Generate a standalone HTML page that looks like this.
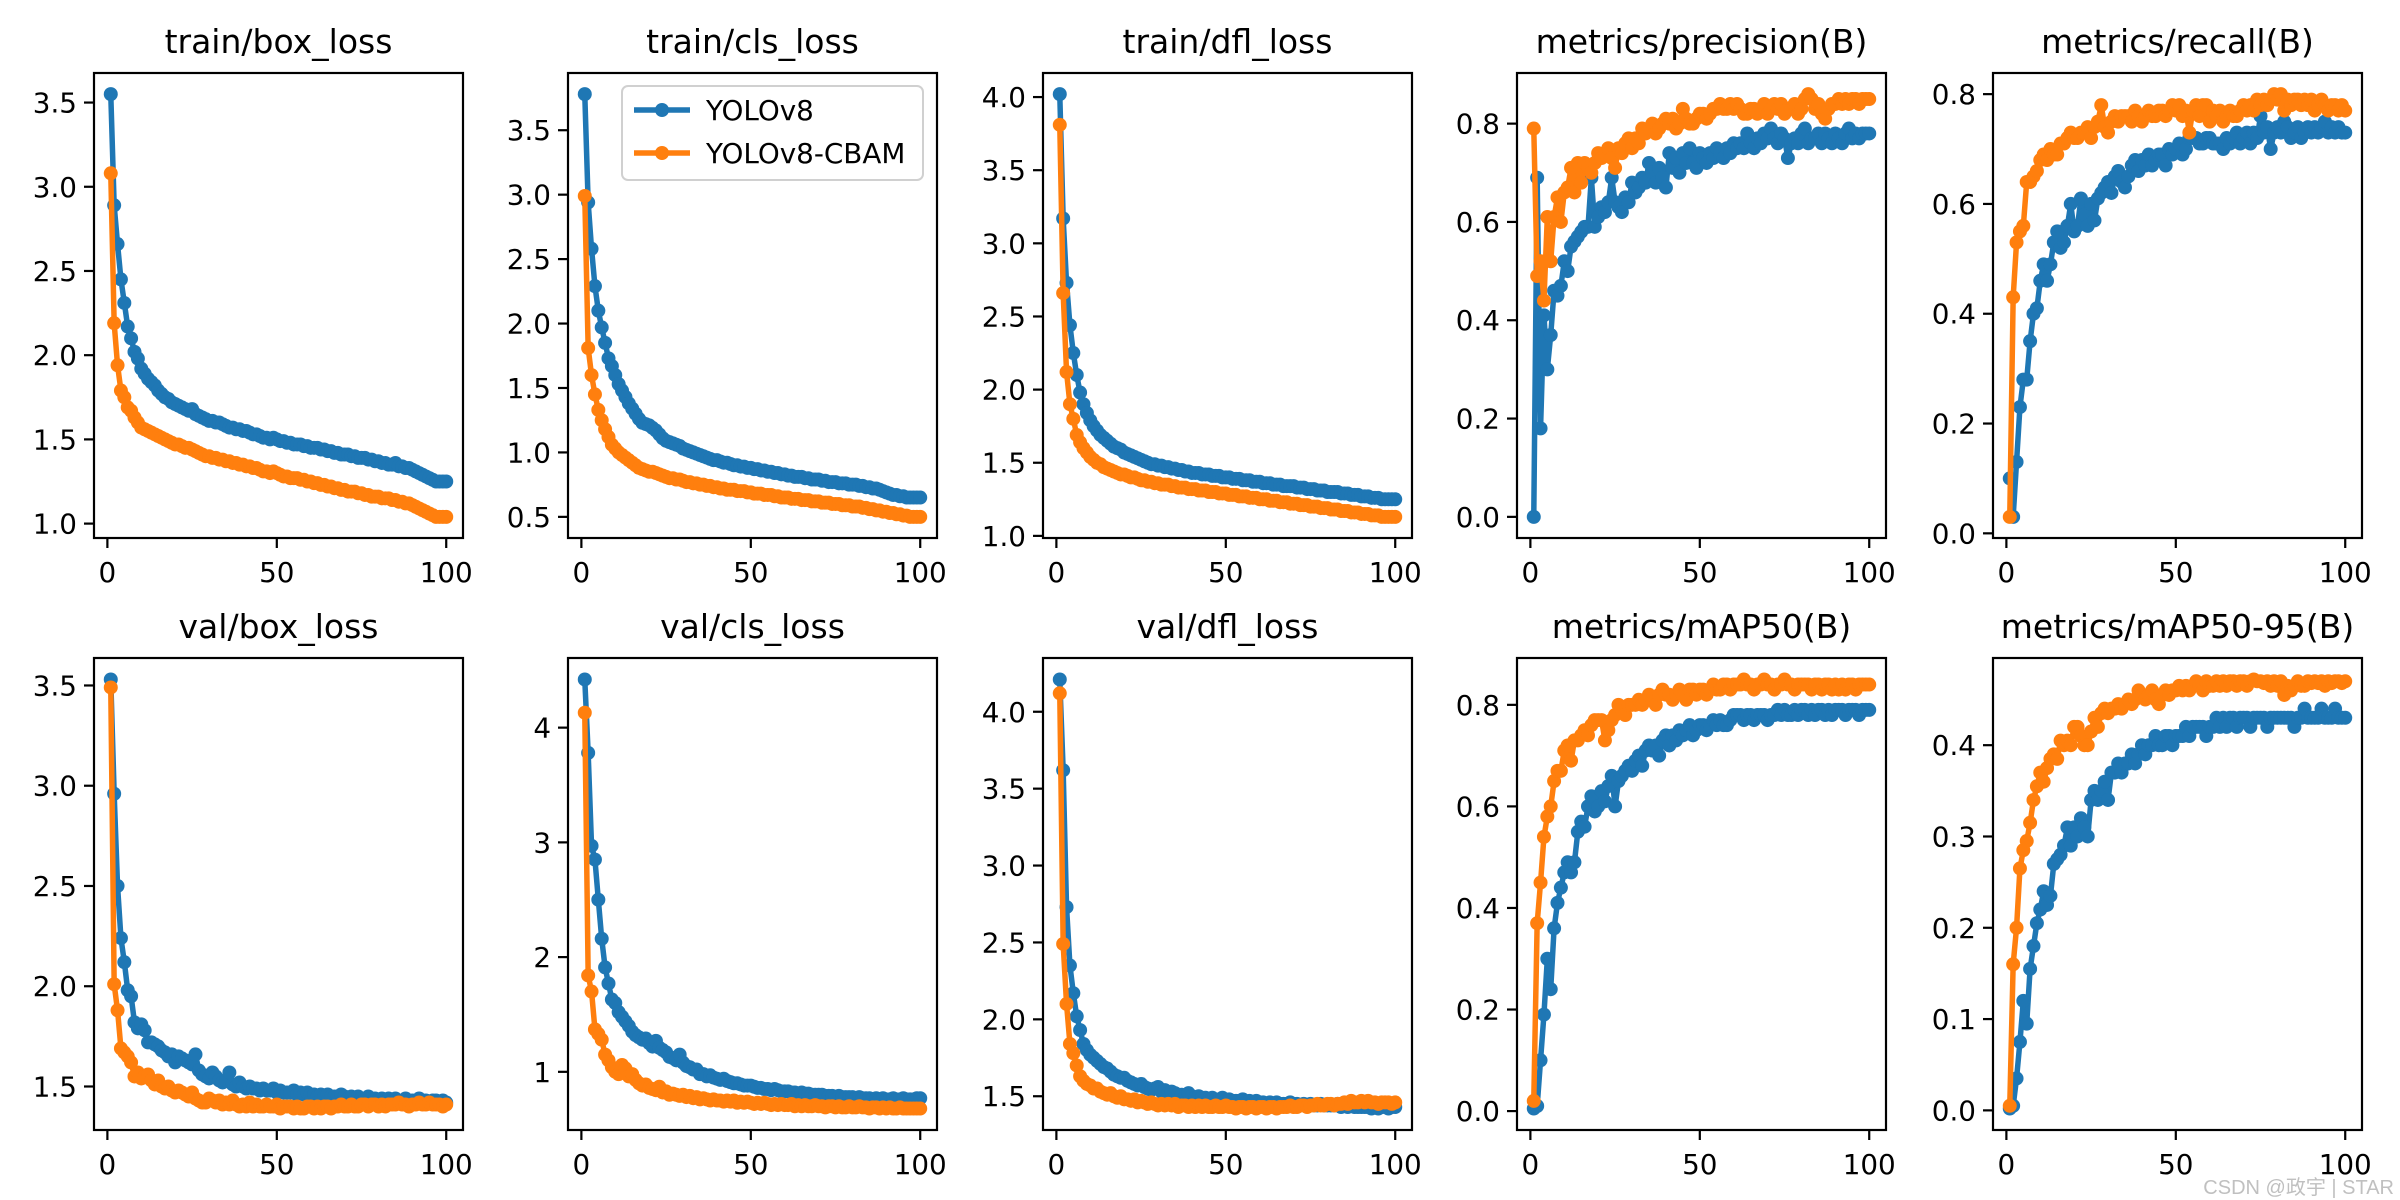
<!DOCTYPE html>
<html><head><meta charset="utf-8"><style>
html,body{margin:0;padding:0;background:#fff}
svg{display:block;font-family:"DejaVu Sans","Liberation Sans",sans-serif}
</style></head><body>
<svg id="fig" width="2400" height="1200" viewBox="0 0 2400 1200" xmlns="http://www.w3.org/2000/svg">
<rect width="2400" height="1200" fill="#fff"/>
<text x="2394" y="1194" text-anchor="end" font-size="20" fill="#c0c0c0" font-family="'Liberation Sans','Noto Sans CJK SC',sans-serif">CSDN @政宇 | STAR</text>
</svg>
<script>
const titles = ["train/box_loss","train/cls_loss","train/dfl_loss","metrics/precision(B)","metrics/recall(B)","val/box_loss","val/cls_loss","val/dfl_loss","metrics/mAP50(B)","metrics/mAP50-95(B)"];
const seriesNames = ["YOLOv8","YOLOv8-CBAM"];
const xTicks = [0,50,100];
const yTicks0 = [1.0,1.5,2.0,2.5,3.0,3.5];
const yTicks1 = [0.5,1.0,1.5,2.0,2.5,3.0,3.5];
const yTicks2 = [1.0,1.5,2.0,2.5,3.0,3.5,4.0];
const yTicks3 = [0.0,0.2,0.4,0.6,0.8];
const yTicks4 = [0.0,0.2,0.4,0.6,0.8];
const yTicks5 = [1.5,2.0,2.5,3.0,3.5];
const yTicks6 = [1,2,3,4];
const yTicks7 = [1.5,2.0,2.5,3.0,3.5,4.0];
const yTicks8 = [0.0,0.2,0.4,0.6,0.8];
const yTicks9 = [0.0,0.1,0.2,0.3,0.4];
const tickDecimals = [1,1,1,1,1,1,0,1,1,1];

const trainBoxV8 = [3.55,2.89,2.66,2.45,2.31,2.17,2.10,2.02,1.98,1.92,1.89,1.86,1.84,1.82,1.79,1.77,1.75,1.74,1.72,1.71,1.70,1.69,1.68,1.67,1.68,1.65,1.64,1.63,1.62,1.61,1.61,1.60,1.60,1.59,1.58,1.57,1.57,1.56,1.56,1.55,1.55,1.54,1.53,1.53,1.52,1.51,1.51,1.50,1.51,1.50,1.49,1.49,1.48,1.48,1.47,1.47,1.47,1.46,1.46,1.45,1.45,1.45,1.44,1.44,1.43,1.43,1.42,1.42,1.41,1.41,1.41,1.40,1.40,1.39,1.39,1.39,1.38,1.38,1.37,1.37,1.36,1.36,1.35,1.35,1.36,1.34,1.34,1.33,1.33,1.32,1.31,1.30,1.29,1.28,1.27,1.26,1.25,1.25,1.25,1.25];
const trainBoxCBAM = [3.08,2.19,1.94,1.79,1.75,1.69,1.67,1.63,1.60,1.57,1.56,1.55,1.54,1.53,1.52,1.51,1.50,1.49,1.48,1.47,1.47,1.46,1.45,1.45,1.44,1.43,1.42,1.41,1.40,1.40,1.39,1.39,1.38,1.38,1.37,1.37,1.36,1.36,1.35,1.35,1.34,1.34,1.33,1.33,1.32,1.31,1.31,1.30,1.31,1.30,1.29,1.28,1.28,1.27,1.27,1.27,1.26,1.26,1.25,1.25,1.24,1.24,1.23,1.23,1.22,1.22,1.21,1.21,1.20,1.20,1.19,1.19,1.19,1.18,1.18,1.17,1.17,1.16,1.16,1.16,1.15,1.15,1.15,1.14,1.14,1.13,1.13,1.12,1.12,1.11,1.10,1.09,1.08,1.07,1.06,1.05,1.04,1.04,1.04,1.04];
const trainClsV8 = [3.78,2.94,2.58,2.29,2.10,1.97,1.85,1.73,1.67,1.60,1.53,1.48,1.43,1.38,1.34,1.30,1.26,1.23,1.22,1.21,1.19,1.17,1.14,1.11,1.09,1.08,1.07,1.06,1.05,1.03,1.02,1.01,1.00,0.99,0.98,0.97,0.96,0.95,0.94,0.94,0.93,0.92,0.92,0.91,0.90,0.90,0.89,0.89,0.88,0.88,0.87,0.87,0.86,0.86,0.85,0.85,0.84,0.84,0.83,0.83,0.82,0.82,0.81,0.81,0.81,0.80,0.80,0.79,0.79,0.79,0.78,0.78,0.77,0.77,0.77,0.76,0.76,0.76,0.75,0.75,0.75,0.74,0.74,0.73,0.73,0.72,0.72,0.71,0.70,0.69,0.68,0.67,0.67,0.66,0.66,0.65,0.65,0.65,0.65,0.65];
const trainClsCBAM = [2.99,1.81,1.60,1.45,1.33,1.25,1.18,1.12,1.06,1.03,1.00,0.98,0.96,0.94,0.92,0.90,0.88,0.87,0.86,0.85,0.85,0.84,0.83,0.82,0.81,0.80,0.80,0.79,0.79,0.78,0.77,0.77,0.76,0.76,0.75,0.75,0.74,0.74,0.73,0.73,0.72,0.72,0.71,0.71,0.71,0.70,0.70,0.70,0.69,0.69,0.68,0.68,0.68,0.67,0.67,0.67,0.66,0.66,0.65,0.65,0.65,0.64,0.64,0.64,0.63,0.63,0.63,0.62,0.62,0.62,0.61,0.61,0.61,0.60,0.60,0.60,0.59,0.59,0.59,0.58,0.58,0.58,0.57,0.57,0.56,0.56,0.55,0.55,0.54,0.54,0.53,0.53,0.52,0.52,0.51,0.51,0.50,0.50,0.50,0.50];
const trainDflV8 = [4.02,3.17,2.73,2.44,2.25,2.10,1.98,1.90,1.84,1.79,1.75,1.72,1.69,1.67,1.65,1.63,1.61,1.60,1.59,1.57,1.56,1.55,1.54,1.53,1.52,1.51,1.50,1.49,1.49,1.48,1.48,1.47,1.47,1.46,1.46,1.45,1.45,1.44,1.44,1.43,1.43,1.43,1.42,1.42,1.42,1.41,1.41,1.41,1.40,1.40,1.40,1.39,1.39,1.39,1.38,1.38,1.38,1.37,1.37,1.37,1.36,1.36,1.36,1.35,1.35,1.35,1.34,1.34,1.34,1.34,1.33,1.33,1.33,1.32,1.32,1.32,1.31,1.31,1.31,1.30,1.30,1.30,1.30,1.29,1.29,1.29,1.28,1.28,1.28,1.27,1.27,1.27,1.26,1.26,1.26,1.25,1.25,1.25,1.25,1.25];
const trainDflCBAM = [3.81,2.66,2.12,1.90,1.80,1.69,1.64,1.60,1.57,1.54,1.52,1.50,1.49,1.47,1.46,1.45,1.44,1.43,1.42,1.42,1.41,1.40,1.40,1.39,1.38,1.38,1.37,1.37,1.36,1.36,1.35,1.35,1.35,1.34,1.34,1.33,1.33,1.33,1.32,1.32,1.32,1.31,1.31,1.31,1.30,1.30,1.30,1.29,1.29,1.29,1.28,1.28,1.28,1.27,1.27,1.27,1.26,1.26,1.26,1.25,1.25,1.25,1.24,1.24,1.24,1.23,1.23,1.23,1.22,1.22,1.22,1.21,1.21,1.21,1.20,1.20,1.20,1.19,1.19,1.19,1.18,1.18,1.18,1.17,1.17,1.17,1.16,1.16,1.16,1.15,1.15,1.15,1.14,1.14,1.14,1.13,1.13,1.13,1.13,1.13];
const precisionV8 = [0.00,0.69,0.18,0.41,0.30,0.37,0.46,0.45,0.47,0.52,0.50,0.55,0.56,0.57,0.58,0.59,0.59,0.69,0.59,0.61,0.63,0.62,0.64,0.69,0.64,0.63,0.62,0.65,0.64,0.68,0.66,0.67,0.69,0.68,0.72,0.70,0.68,0.71,0.69,0.67,0.74,0.71,0.73,0.70,0.74,0.72,0.75,0.72,0.71,0.74,0.73,0.72,0.74,0.73,0.75,0.74,0.73,0.75,0.74,0.76,0.75,0.76,0.75,0.78,0.76,0.75,0.77,0.76,0.78,0.77,0.79,0.77,0.76,0.78,0.77,0.73,0.76,0.77,0.76,0.78,0.79,0.76,0.77,0.77,0.78,0.76,0.78,0.77,0.76,0.78,0.77,0.76,0.78,0.79,0.77,0.78,0.77,0.78,0.78,0.78];
const precisionCBAM = [0.79,0.49,0.52,0.44,0.61,0.52,0.61,0.65,0.60,0.66,0.67,0.71,0.66,0.72,0.68,0.72,0.71,0.70,0.72,0.74,0.73,0.74,0.75,0.73,0.71,0.75,0.74,0.76,0.77,0.75,0.77,0.76,0.79,0.78,0.79,0.80,0.78,0.79,0.80,0.81,0.80,0.81,0.79,0.80,0.83,0.81,0.80,0.80,0.81,0.82,0.82,0.81,0.82,0.83,0.83,0.84,0.83,0.83,0.84,0.83,0.84,0.83,0.82,0.82,0.83,0.83,0.82,0.83,0.84,0.82,0.83,0.84,0.83,0.84,0.82,0.83,0.83,0.84,0.82,0.83,0.85,0.86,0.85,0.83,0.84,0.82,0.81,0.83,0.84,0.84,0.85,0.84,0.85,0.84,0.85,0.85,0.84,0.85,0.85,0.85];
const recallV8 = [0.10,0.03,0.13,0.23,0.28,0.28,0.35,0.40,0.41,0.46,0.49,0.46,0.49,0.53,0.55,0.52,0.53,0.56,0.60,0.55,0.56,0.61,0.58,0.56,0.60,0.57,0.61,0.62,0.63,0.64,0.62,0.65,0.66,0.64,0.63,0.65,0.67,0.68,0.66,0.68,0.67,0.69,0.67,0.68,0.69,0.69,0.67,0.70,0.69,0.70,0.71,0.69,0.70,0.72,0.72,0.72,0.71,0.71,0.72,0.72,0.71,0.71,0.71,0.70,0.72,0.71,0.72,0.73,0.71,0.72,0.73,0.71,0.73,0.72,0.76,0.73,0.74,0.70,0.73,0.74,0.73,0.75,0.74,0.72,0.73,0.74,0.72,0.73,0.74,0.73,0.74,0.73,0.74,0.75,0.73,0.74,0.73,0.74,0.73,0.73];
const recallCBAM = [0.03,0.43,0.53,0.55,0.56,0.64,0.64,0.65,0.66,0.68,0.69,0.68,0.70,0.69,0.69,0.71,0.71,0.72,0.73,0.72,0.72,0.73,0.73,0.74,0.72,0.74,0.75,0.78,0.74,0.73,0.75,0.76,0.75,0.76,0.76,0.76,0.75,0.77,0.76,0.75,0.76,0.77,0.76,0.76,0.77,0.77,0.76,0.77,0.78,0.77,0.78,0.76,0.77,0.73,0.77,0.78,0.76,0.78,0.78,0.75,0.77,0.76,0.77,0.75,0.76,0.77,0.76,0.76,0.77,0.78,0.77,0.78,0.77,0.79,0.78,0.79,0.78,0.79,0.80,0.79,0.80,0.77,0.79,0.78,0.79,0.79,0.78,0.79,0.78,0.79,0.77,0.78,0.79,0.78,0.77,0.78,0.78,0.77,0.78,0.77];
const valBoxV8 = [3.53,2.96,2.50,2.24,2.12,1.98,1.95,1.82,1.79,1.81,1.78,1.72,1.72,1.71,1.70,1.68,1.67,1.65,1.66,1.62,1.65,1.64,1.63,1.62,1.61,1.66,1.58,1.56,1.55,1.54,1.57,1.55,1.53,1.52,1.53,1.57,1.51,1.50,1.52,1.50,1.49,1.50,1.49,1.49,1.48,1.49,1.48,1.48,1.49,1.47,1.48,1.47,1.47,1.47,1.48,1.46,1.47,1.46,1.47,1.46,1.46,1.45,1.46,1.45,1.46,1.45,1.45,1.45,1.46,1.45,1.44,1.45,1.44,1.45,1.44,1.44,1.45,1.44,1.44,1.43,1.44,1.43,1.44,1.43,1.44,1.43,1.43,1.44,1.43,1.43,1.43,1.44,1.43,1.43,1.42,1.43,1.43,1.42,1.43,1.42];
const valBoxCBAM = [3.49,2.01,1.88,1.69,1.67,1.65,1.62,1.55,1.57,1.54,1.55,1.56,1.53,1.51,1.53,1.50,1.49,1.50,1.48,1.47,1.48,1.47,1.46,1.45,1.47,1.44,1.43,1.42,1.42,1.44,1.43,1.42,1.43,1.41,1.42,1.41,1.43,1.41,1.40,1.41,1.40,1.42,1.40,1.41,1.40,1.40,1.41,1.40,1.40,1.41,1.39,1.40,1.40,1.40,1.39,1.40,1.39,1.39,1.40,1.40,1.39,1.40,1.39,1.40,1.40,1.39,1.40,1.40,1.41,1.40,1.40,1.41,1.40,1.40,1.41,1.41,1.40,1.41,1.41,1.40,1.41,1.40,1.41,1.41,1.41,1.42,1.41,1.41,1.40,1.41,1.41,1.42,1.41,1.41,1.42,1.41,1.41,1.41,1.40,1.41];
const valClsV8 = [4.42,3.78,2.97,2.85,2.50,2.16,1.91,1.77,1.63,1.60,1.52,1.48,1.44,1.40,1.35,1.32,1.30,1.28,1.29,1.25,1.22,1.27,1.21,1.19,1.17,1.13,1.12,1.10,1.15,1.08,1.05,1.04,1.02,1.02,0.98,0.98,0.96,0.97,0.95,0.94,0.93,0.94,0.92,0.91,0.90,0.90,0.89,0.88,0.88,0.88,0.87,0.86,0.86,0.85,0.85,0.84,0.85,0.84,0.83,0.83,0.83,0.82,0.82,0.81,0.82,0.81,0.81,0.80,0.80,0.80,0.80,0.79,0.79,0.79,0.78,0.79,0.78,0.78,0.78,0.78,0.77,0.78,0.77,0.77,0.77,0.76,0.77,0.76,0.77,0.76,0.76,0.77,0.76,0.76,0.77,0.76,0.76,0.76,0.77,0.77];
const valClsCBAM = [4.13,1.84,1.70,1.37,1.33,1.28,1.15,1.10,1.04,1.00,0.98,1.06,1.03,0.96,0.98,0.93,0.90,0.88,0.89,0.86,0.85,0.84,0.87,0.82,0.83,0.80,0.81,0.80,0.79,0.80,0.78,0.79,0.77,0.78,0.76,0.77,0.76,0.75,0.76,0.75,0.75,0.74,0.75,0.74,0.75,0.73,0.74,0.73,0.74,0.73,0.72,0.73,0.72,0.73,0.72,0.71,0.72,0.71,0.72,0.71,0.71,0.72,0.70,0.71,0.70,0.71,0.70,0.70,0.71,0.70,0.70,0.69,0.70,0.70,0.69,0.70,0.69,0.69,0.70,0.69,0.69,0.70,0.69,0.69,0.68,0.69,0.69,0.68,0.69,0.68,0.69,0.68,0.68,0.69,0.68,0.68,0.68,0.68,0.68,0.68];
const valDflV8 = [4.21,3.62,2.73,2.35,2.17,2.02,1.93,1.84,1.80,1.77,1.75,1.73,1.71,1.69,1.68,1.66,1.64,1.63,1.62,1.62,1.60,1.59,1.58,1.57,1.58,1.56,1.55,1.54,1.55,1.56,1.53,1.54,1.52,1.53,1.52,1.51,1.51,1.50,1.52,1.50,1.49,1.50,1.49,1.49,1.48,1.49,1.48,1.48,1.49,1.47,1.48,1.47,1.47,1.47,1.48,1.46,1.47,1.46,1.47,1.46,1.46,1.45,1.46,1.45,1.46,1.45,1.45,1.45,1.46,1.45,1.45,1.44,1.45,1.44,1.45,1.44,1.44,1.45,1.44,1.44,1.44,1.44,1.45,1.43,1.44,1.43,1.44,1.43,1.43,1.43,1.43,1.43,1.42,1.43,1.42,1.43,1.43,1.42,1.43,1.43];
const valDflCBAM = [4.12,2.49,2.10,1.84,1.78,1.70,1.63,1.60,1.58,1.57,1.55,1.55,1.53,1.52,1.51,1.52,1.50,1.49,1.50,1.48,1.48,1.47,1.48,1.46,1.47,1.46,1.45,1.46,1.45,1.44,1.45,1.44,1.45,1.44,1.45,1.43,1.44,1.44,1.43,1.44,1.43,1.44,1.43,1.44,1.43,1.43,1.44,1.43,1.43,1.44,1.43,1.43,1.42,1.43,1.43,1.42,1.43,1.43,1.42,1.43,1.43,1.42,1.43,1.43,1.42,1.43,1.43,1.43,1.44,1.43,1.43,1.44,1.44,1.43,1.44,1.44,1.45,1.44,1.44,1.45,1.45,1.44,1.45,1.45,1.46,1.45,1.47,1.46,1.46,1.47,1.46,1.47,1.46,1.46,1.45,1.46,1.46,1.46,1.45,1.46];
const map50V8 = [0.005,0.01,0.10,0.19,0.30,0.24,0.36,0.41,0.44,0.47,0.49,0.47,0.49,0.55,0.57,0.56,0.60,0.62,0.59,0.60,0.63,0.61,0.64,0.66,0.60,0.65,0.66,0.67,0.68,0.67,0.69,0.70,0.68,0.71,0.72,0.71,0.72,0.70,0.73,0.74,0.72,0.74,0.73,0.75,0.74,0.75,0.76,0.74,0.75,0.76,0.76,0.75,0.76,0.77,0.76,0.77,0.76,0.76,0.77,0.78,0.78,0.78,0.77,0.78,0.78,0.77,0.78,0.78,0.78,0.77,0.78,0.78,0.79,0.78,0.79,0.78,0.78,0.79,0.78,0.79,0.79,0.78,0.79,0.78,0.79,0.79,0.78,0.79,0.78,0.79,0.79,0.79,0.78,0.79,0.79,0.79,0.78,0.79,0.79,0.79];
const map50CBAM = [0.02,0.37,0.45,0.54,0.58,0.60,0.65,0.67,0.67,0.71,0.72,0.69,0.73,0.73,0.74,0.75,0.74,0.76,0.77,0.77,0.77,0.73,0.75,0.77,0.78,0.80,0.79,0.78,0.80,0.80,0.80,0.81,0.80,0.81,0.82,0.81,0.80,0.82,0.83,0.82,0.82,0.81,0.82,0.83,0.82,0.81,0.83,0.83,0.82,0.83,0.83,0.82,0.83,0.84,0.83,0.83,0.84,0.84,0.83,0.84,0.84,0.84,0.85,0.84,0.84,0.83,0.84,0.84,0.85,0.84,0.84,0.83,0.84,0.84,0.85,0.84,0.84,0.83,0.84,0.84,0.84,0.84,0.83,0.84,0.84,0.83,0.84,0.84,0.83,0.84,0.83,0.84,0.83,0.84,0.84,0.83,0.84,0.84,0.84,0.84];
const map5095V8 = [0.002,0.005,0.035,0.075,0.12,0.095,0.155,0.18,0.205,0.22,0.24,0.225,0.235,0.27,0.275,0.28,0.29,0.31,0.29,0.31,0.30,0.32,0.31,0.30,0.34,0.35,0.34,0.35,0.36,0.34,0.37,0.37,0.38,0.37,0.38,0.38,0.39,0.38,0.39,0.40,0.39,0.40,0.40,0.41,0.40,0.40,0.41,0.41,0.40,0.41,0.41,0.41,0.42,0.41,0.42,0.42,0.42,0.42,0.41,0.42,0.42,0.43,0.42,0.43,0.42,0.43,0.43,0.42,0.43,0.43,0.43,0.42,0.43,0.43,0.43,0.43,0.42,0.43,0.43,0.43,0.43,0.43,0.43,0.43,0.42,0.43,0.43,0.44,0.43,0.43,0.43,0.43,0.44,0.43,0.43,0.43,0.44,0.43,0.43,0.43];
const map5095CBAM = [0.005,0.16,0.20,0.265,0.285,0.295,0.315,0.34,0.355,0.37,0.36,0.375,0.385,0.39,0.385,0.405,0.40,0.405,0.40,0.42,0.42,0.41,0.40,0.40,0.415,0.43,0.42,0.435,0.44,0.435,0.44,0.44,0.445,0.44,0.445,0.45,0.445,0.45,0.46,0.455,0.45,0.455,0.46,0.45,0.445,0.455,0.46,0.455,0.46,0.46,0.465,0.46,0.465,0.46,0.465,0.47,0.465,0.46,0.47,0.465,0.465,0.47,0.465,0.47,0.465,0.47,0.47,0.465,0.47,0.47,0.465,0.47,0.472,0.47,0.47,0.468,0.47,0.465,0.47,0.465,0.47,0.455,0.465,0.46,0.465,0.47,0.465,0.465,0.47,0.468,0.47,0.468,0.47,0.465,0.47,0.468,0.47,0.47,0.468,0.47];

const panelSeries = [
  [trainBoxV8,trainBoxCBAM],[trainClsV8,trainClsCBAM],[trainDflV8,trainDflCBAM],
  [precisionV8,precisionCBAM],[recallV8,recallCBAM],
  [valBoxV8,valBoxCBAM],[valClsV8,valClsCBAM],[valDflV8,valDflCBAM],
  [map50V8,map50CBAM],[map5095V8,map5095CBAM]];
const panelYTicks = [yTicks0,yTicks1,yTicks2,yTicks3,yTicks4,yTicks5,yTicks6,yTicks7,yTicks8,yTicks9];

const NS = "http://www.w3.org/2000/svg";
const svg = document.getElementById('fig');
const COLORS = ["#1f77b4","#ff7f0e"];
const colLeft = [94,568,1043,1517,1993];
const rowTop = [73,658];
const rowH = [465,472];
const W = 369;
const LW = 5.5, MR = 7;
function mk(tag, attrs, parent){
  const e = document.createElementNS(NS, tag);
  for (const k in attrs) e.setAttribute(k, attrs[k]);
  (parent||svg).appendChild(e);
  return e;
}
const safe = s => s.replace(/[^a-z0-9]+/gi,'-').replace(/^-|-$/g,'').toLowerCase();

panelSeries.forEach((series, p) => {
  const L = colLeft[p%5], T = rowTop[Math.floor(p/5)], H = rowH[Math.floor(p/5)];
  const g = mk('g', {});
  
  
  const n = series[0].length;
  const xmin = 1, xmax = n;
  const xr = xmax - xmin, x0 = xmin - 0.05*xr, x1 = xmax + 0.05*xr;
  let ymin = Infinity, ymax = -Infinity;
  series.forEach(s => s.forEach(v => { ymin = Math.min(ymin, v); ymax = Math.max(ymax, v); }));
  const yr = ymax - ymin, y0 = ymin - 0.05*yr, y1 = ymax + 0.05*yr;
  const X = v => L + (v - x0)/(x1 - x0)*W;
  const Y = v => T + H - (v - y0)/(y1 - y0)*H;

  const title = mk('text', {x: L + W/2, y: T - 20, 'text-anchor':'middle', 'font-size':33, fill:'#000'}, g);
  title.textContent = titles[p];
  
  

  const clip = mk('clipPath', {id:'clip'+p}, g);
  mk('rect', {x:L, y:T, width:W, height:H}, clip);

  series.forEach((s, si) => {
    const sg = mk('g', {'clip-path':'url(#clip'+p+')'}, g);
    
    
    const pts = s.map((v,i) => X(i+1).toFixed(2)+','+Y(v).toFixed(2)).join(' ');
    const line = mk('polyline', {points: pts, fill:'none', stroke: COLORS[si], 'stroke-width':LW, 'stroke-linejoin':'round', 'stroke-linecap':'round'}, sg);
    
    
    s.forEach((v,i) => {
      const c = mk('circle', {cx: X(i+1), cy: Y(v), r: MR, fill: COLORS[si]}, sg);
      
      
    });
  });

  const frame = mk('rect', {x:L, y:T, width:W, height:H, fill:'none', stroke:'#000', 'stroke-width':2.2}, g);
  
  

  xTicks.forEach(t => {
    const x = X(t);
    const tk = mk('line', {x1:x, x2:x, y1:T+H, y2:T+H+10, stroke:'#000', 'stroke-width':2.2}, g);
    
    
    const lb = mk('text', {x:x, y:T+H+44, 'text-anchor':'middle', 'font-size':27.8, fill:'#000'}, g);
    lb.textContent = String(t);
    
    
  });
  panelYTicks[p].forEach(t => {
    const y = Y(t);
    const tk = mk('line', {x1:L-10, x2:L, y1:y, y2:y, stroke:'#000', 'stroke-width':2.2}, g);
    
    
    const lb = mk('text', {x:L-17, y:y+10, 'text-anchor':'end', 'font-size':27.8, fill:'#000'}, g);
    lb.textContent = t.toFixed(tickDecimals[p]);
    
    
  });

  if (p === 1) {
    const lg = mk('g', {}, g);
    
    
    mk('rect', {x:622, y:86, width:301, height:94, rx:6, fill:'#fff', 'fill-opacity':0.8, stroke:'#d0d0d0', 'stroke-width':2}, lg);
    seriesNames.forEach((nm, si) => {
      const yy = 110 + si*43;
      const le = mk('g', {}, lg);
      
      
      mk('line', {x1:634, x2:690, y1:yy, y2:yy, stroke:COLORS[si], 'stroke-width':LW}, le);
      mk('circle', {cx:662, cy:yy, r:MR, fill:COLORS[si]}, le);
      const tx = mk('text', {x:706, y:yy+10, 'font-size':27.8, fill:'#000'}, le);
      tx.textContent = nm;
    });
  }
});
</script>
</body></html>
